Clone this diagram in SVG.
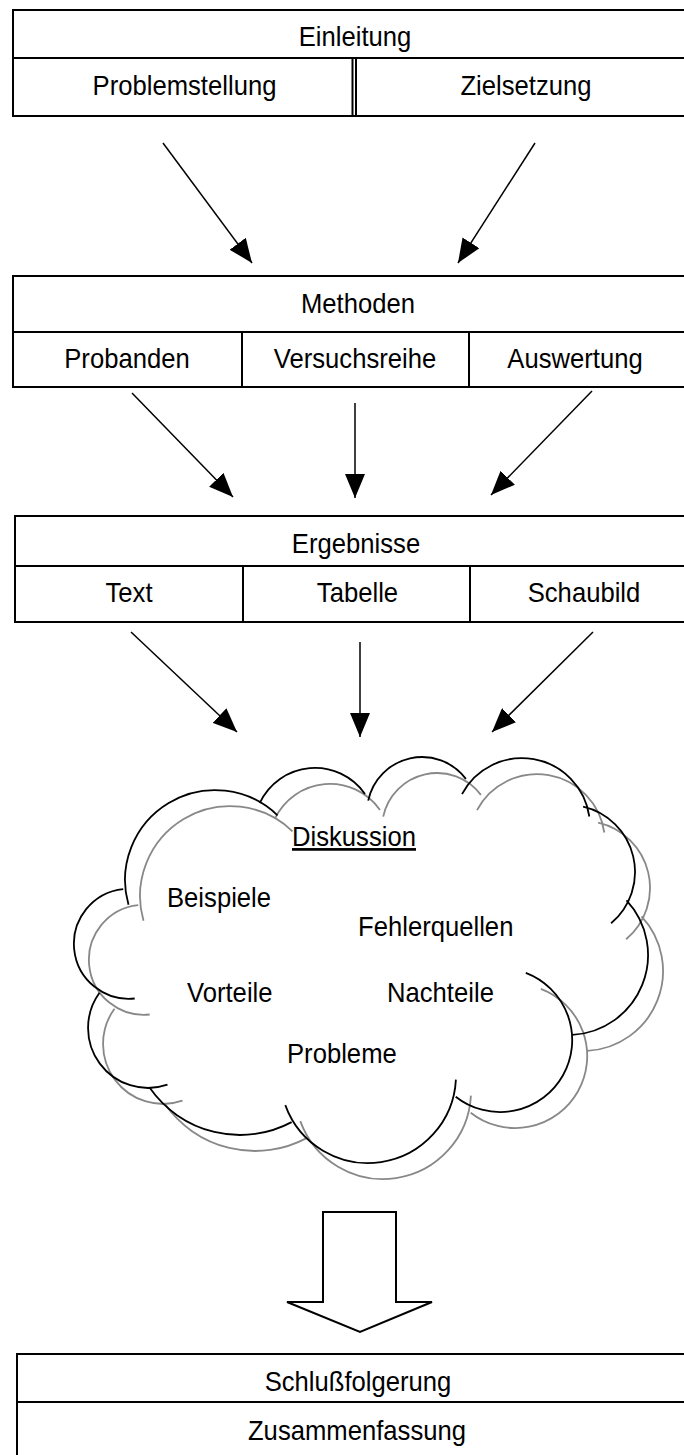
<svg xmlns="http://www.w3.org/2000/svg" width="684" height="1455" viewBox="0 0 684 1455">
<style>
.box{fill:#fff;stroke:#000;stroke-width:2}
.ln{fill:none;stroke:#000;stroke-width:2}
.t{font-family:"Liberation Sans",Arial,sans-serif;font-size:27px;fill:#000}
.m{text-anchor:middle}
.con{fill:none;stroke:#000;stroke-width:1.5;marker-end:url(#ah)}
.cloud{fill:none;stroke:#000;stroke-width:1.8}
.shadow{fill:none;stroke:#888;stroke-width:1.8}
</style>
<defs>
<marker id="ah" markerUnits="userSpaceOnUse" markerWidth="24" markerHeight="20" refX="24" refY="10" orient="auto">
<path d="M0,0 L24,10 L0,20 z" fill="#000"/>
</marker>
<path id="cloudpath" d="M134.7,998.5 A55,55 0 1 1 123.2,889.1 M128.5,904.8 A90,90 0 0 1 277.5,815.3 M259.7,803.2 A61,61 0 0 1 365.0,794.0 M368.2,800.6 A55,55 0 0 1 465.9,778.9 M462.0,794.1 A68,68 0 0 1 589.3,816.5 M583.1,806.7 A67,67 0 0 1 611.1,923.3 M626.5,900.4 A80,80 0 0 1 572.2,1034.9 M525.8,972.8 A72,72 0 1 1 455.7,1096.7 M455.9,1079.6 A88,88 0 0 1 285.3,1105.1 M291.6,1122.1 A110,110 0 0 1 149.9,1088.1 M167.5,1084.7 A60,60 0 0 1 99.5,992.7"/>
</defs>

<g id="einleitung">
<rect class="box" x="13" y="10" width="700" height="106"/>
<line class="ln" x1="13" y1="58" x2="700" y2="58"/>
<line class="ln" x1="352.5" y1="58" x2="352.5" y2="116"/>
<line class="ln" x1="356" y1="58" x2="356" y2="116"/>
<text class="t m" transform="translate(355,46) scale(0.95,1)">Einleitung</text>
<text class="t m" transform="translate(184.5,95) scale(0.95,1)">Problemstellung</text>
<text class="t m" transform="translate(526,95) scale(0.95,1)">Zielsetzung</text>
</g>

<g id="methoden">
<rect class="box" x="13" y="276" width="700" height="111"/>
<line class="ln" x1="13" y1="332" x2="700" y2="332"/>
<line class="ln" x1="242" y1="332" x2="242" y2="387"/>
<line class="ln" x1="469" y1="332" x2="469" y2="387"/>
<text class="t m" transform="translate(358,313) scale(0.95,1)">Methoden</text>
<text class="t m" transform="translate(127,368) scale(0.95,1)">Probanden</text>
<text class="t m" transform="translate(355,368) scale(0.95,1)">Versuchsreihe</text>
<text class="t m" transform="translate(575,368) scale(0.95,1)">Auswertung</text>
</g>

<g id="ergebnisse">
<rect class="box" x="15" y="516" width="700" height="106"/>
<line class="ln" x1="15" y1="566" x2="700" y2="566"/>
<line class="ln" x1="243" y1="566" x2="243" y2="622"/>
<line class="ln" x1="470" y1="566" x2="470" y2="622"/>
<text class="t m" transform="translate(356,553) scale(0.95,1)">Ergebnisse</text>
<text class="t m" transform="translate(129,602) scale(0.95,1)">Text</text>
<text class="t m" transform="translate(357.5,602) scale(0.95,1)">Tabelle</text>
<text class="t m" transform="translate(584,602) scale(0.95,1)">Schaubild</text>
</g>

<g id="diskussion">
<use href="#cloudpath" class="shadow" transform="translate(15,16)"/>
<use href="#cloudpath" class="cloud"/>
<text class="t" transform="translate(292,846) scale(0.95,1)" text-decoration="underline">Diskussion</text>
<text class="t" transform="translate(167,907) scale(0.95,1)">Beispiele</text>
<text class="t" transform="translate(358,936) scale(0.95,1)">Fehlerquellen</text>
<text class="t" transform="translate(187,1002) scale(0.95,1)">Vorteile</text>
<text class="t" transform="translate(387,1002) scale(0.95,1)">Nachteile</text>
<text class="t" transform="translate(287,1063) scale(0.95,1)">Probleme</text>
</g>

<g id="pfeil">
<polygon points="323,1212 396,1212 396,1302 432,1302 360,1332 287,1302 323,1302" fill="#fff" stroke="#000" stroke-width="2"/>
</g>

<g id="schluss">
<rect class="box" x="17" y="1354" width="700" height="130"/>
<line class="ln" x1="17" y1="1402" x2="700" y2="1402"/>
<text class="t m" transform="translate(358,1391) scale(0.95,1)">Schlußfolgerung</text>
<text class="t m" transform="translate(357,1440) scale(0.95,1)">Zusammenfassung</text>
</g>

<g id="connectors">
<line class="con" x1="163" y1="143" x2="252" y2="263"/>
<line class="con" x1="535" y1="143" x2="458" y2="263"/>
<line class="con" x1="132" y1="393" x2="233" y2="497"/>
<line class="con" x1="355" y1="403" x2="355" y2="498"/>
<line class="con" x1="592" y1="391" x2="491" y2="495"/>
<line class="con" x1="131" y1="632" x2="237" y2="732"/>
<line class="con" x1="360" y1="642" x2="360" y2="737"/>
<line class="con" x1="593" y1="632" x2="492" y2="732"/>
</g>
</svg>
